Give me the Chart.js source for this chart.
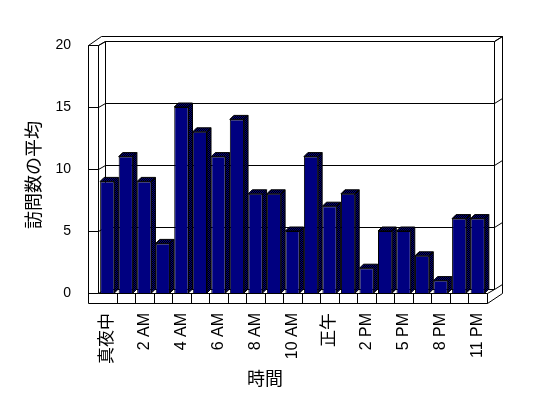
<!DOCTYPE html>
<html>
<head>
<meta charset="utf-8">
<script src="https://cdn.jsdelivr.net/npm/chart.js@4/dist/chart.umd.min.js"></script>
<style>
  html, body { margin: 0; padding: 0; background: #fff; }
  canvas { display: block; }
</style>
</head>
<body>
<canvas id="chart" width="548" height="398"></canvas>
<script>
const hours = ['真夜中', '1 AM', '2 AM', '3 AM', '4 AM', '5 AM', '6 AM', '7 AM', '8 AM', '9 AM', '10 AM', '11 AM',
               '正午', '1 PM', '2 PM', '3 PM', '5 PM', '6 PM', '8 PM', '9 PM', '11 PM'];
const avgVisits = [9, 11, 9, 4, 15, 13, 11, 14, 8, 8, 5, 11, 7, 8, 2, 5, 5, 3, 1, 6, 6];
const yTicks = [0, 5, 10, 15, 20];

const LATIN = "'Liberation Sans', Arial, 'Noto Sans CJK JP', sans-serif";
const CJK = "'Noto Sans CJK JP', sans-serif";

// 3D look: offsets of the back wall and of each bar's depth
const WALL_DX = 7, WALL_DY = -4.5;
const BAR_DX = 4, BAR_DY = -4;
const THICK = 10;

const ctx = document.getElementById('chart').getContext('2d');

// dithered navy/black for the side and top faces
const pc = document.createElement('canvas');
pc.width = pc.height = 2;
const pctx = pc.getContext('2d');
pctx.fillStyle = '#000';
pctx.fillRect(0, 0, 2, 2);
pctx.fillStyle = '#000080';
pctx.fillRect(0, 0, 1, 1);
pctx.fillRect(1, 1, 1, 1);
const shadeFill = ctx.createPattern(pc, 'repeat');

function line(c, pts) {
    c.beginPath();
    pts.forEach(([px, py], i) => {
        const X = Math.round(px) + 0.5, Y = Math.round(py) + 0.5;
        if (i) c.lineTo(X, Y); else c.moveTo(X, Y);
    });
    c.stroke();
}

const frame3d = {
    id: 'frame3d',
    beforeDatasetsDraw(chart) {
        const c = chart.ctx;
        const { left: L, right: R, top: T, bottom: B } = chart.chartArea;
        const ys = chart.scales.y, xs = chart.scales.x;
        c.save();
        c.strokeStyle = '#000';
        c.lineWidth = 1;

        // grid lines across left wall, back wall and right edge
        yTicks.forEach(v => {
            const yy = ys.getPixelForValue(v);
            line(c, [[L - THICK, yy], [L, yy], [L + WALL_DX, yy + WALL_DY], [R + WALL_DX, yy + WALL_DY], [R + 15, yy + WALL_DY - 5]]);
        });

        // back wall edges
        line(c, [[L + WALL_DX, T + WALL_DY], [L + WALL_DX, B + WALL_DY]]);
        line(c, [[R + WALL_DX, T + WALL_DY], [R + WALL_DX, B + WALL_DY], [R, B]]);

        // left wall
        line(c, [[L - THICK, B + THICK], [L - THICK, T], [L, T], [L, B]]);
        line(c, [[L, T], [L + WALL_DX, T + WALL_DY]]);
        line(c, [[L - THICK, T], [L + 3, T - 9.5], [R + 15, T - 9.5], [R + 15, B]]);
        line(c, [[R + WALL_DX, T + WALL_DY], [R + 15, T - 9.5]]);

        // floor
        line(c, [[L - THICK, B + THICK], [R, B + THICK], [R, B]]);
        line(c, [[L, B], [R, B]]);
        line(c, [[R, B + THICK], [R + 15, B]]);
        for (let i = 1; i < hours.length; i++) {
            const xx = (xs.getPixelForTick(i - 1) + xs.getPixelForTick(i)) / 2;
            line(c, [[xx, B], [xx, B + THICK]]);
        }

        // side and top faces of the bars
        const meta = chart.getDatasetMeta(0);
        meta.data.forEach(bar => {
            const { x, y, base, width } = bar.getProps(['x', 'y', 'base', 'width'], true);
            const l = x - width / 2, r = x + width / 2;
            c.fillStyle = shadeFill;
            c.beginPath();
            c.moveTo(r, base);
            c.lineTo(r, y);
            c.lineTo(l, y);
            c.lineTo(l + BAR_DX, y + BAR_DY);
            c.lineTo(r + BAR_DX, y + BAR_DY);
            c.lineTo(r + BAR_DX, base + BAR_DY);
            c.closePath();
            c.fill();
            c.stroke();
            c.beginPath();
            c.moveTo(r, y);
            c.lineTo(r + BAR_DX, y + BAR_DY);
            c.stroke();
        });
        c.restore();
    },
    afterDraw(chart) {
        const c = chart.ctx;
        c.save();
        c.fillStyle = '#000';
        c.font = '18px ' + CJK;
        c.textAlign = 'center';
        c.textBaseline = 'middle';
        c.fillText('時間', 265, 378);
        c.translate(33, 175);
        c.rotate(-Math.PI / 2);
        c.fillText('訪問数の平均', 0, 0);
        c.restore();
    }
};

new Chart(ctx, {
    type: 'bar',
    data: {
        labels: hours,
        datasets: [{
            data: avgVisits,
            backgroundColor: '#000080',
            borderColor: '#000',
            borderWidth: 1,
            barPercentage: 0.77,
            categoryPercentage: 1
        }]
    },
    options: {
        responsive: false,
        animation: false,
        layout: { padding: { top: 45, right: 61, bottom: 0, left: 0 } },
        plugins: {
            legend: { display: false },
            tooltip: { enabled: false }
        },
        scales: {
            x: {
                grid: { display: false, drawTicks: false },
                border: { display: false },
                ticks: {
                    autoSkip: false,
                    minRotation: 90,
                    maxRotation: 90,
                    padding: 20,
                    color: '#000',
                    callback: (v, i) => i % 2 === 0 ? hours[i] : '',
                    font: c => ({ family: LATIN, size: /[^\x00-\x7f]/.test(hours[c.index] || '') ? 17 : 16 })
                },
                afterFit: s => { s.height = 105; }
            },
            y: {
                min: 0,
                max: 20,
                grid: { display: false, drawTicks: false },
                border: { display: false },
                ticks: {
                    stepSize: 5,
                    padding: 27,
                    color: '#000',
                    font: { family: LATIN, size: 14 }
                },
                afterFit: s => { s.width = 98; }
            }
        }
    },
    plugins: [frame3d]
});
</script>
</body>
</html>
